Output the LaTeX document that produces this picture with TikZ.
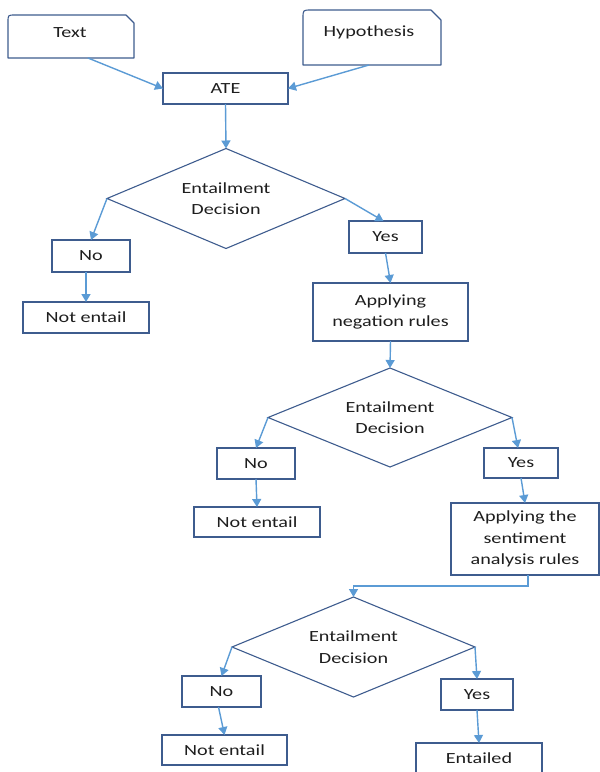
\documentclass[tikz,border=0pt]{standalone}
\usepackage{fontspec}
\setmainfont[FakeStretch=1.3]{Carlito}
\usetikzlibrary{shapes.geometric,arrows.meta}
\definecolor{boxline}{RGB}{62,92,142}
\definecolor{arrowc}{RGB}{91,155,213}
\definecolor{txt}{RGB}{30,30,30}
\begin{document}
\begin{tikzpicture}[x=1pt,y=-1pt,
  font=\fontsize{15.5}{21.5}\selectfont,
  every node/.style={text=txt, inner sep=0pt, outer sep=0pt, align=center},
  box/.style={draw=boxline, line width=1.1pt, rectangle},
  decision/.style={draw=boxline, line width=1.1pt, diamond, aspect=2.4},
  docshape/.style={draw=boxline, line width=1.1pt, line join=round},
  conn/.style={draw=arrowc, line width=1.4pt, -{Triangle[width=9pt,length=8pt]}}
]
\clip (0,0) rectangle (600,772);
\useasboundingbox (0,0) rectangle (600,772);

% document shapes (top-left rounded, top-right snipped)
\node[minimum width=126pt, minimum height=43pt] (text) at (71,36.5) {};
\draw[docshape] (text.south west) -- ([yshift=-7]text.north west)
  .. controls (text.north west) .. ([xshift=7]text.north west)
  -- ([xshift=-8]text.north east) -- ([yshift=-8]text.north east)
  -- (text.south east) -- cycle;
\node (textlbl) at (70,33) {Text};

\node[minimum width=138pt, minimum height=55pt] (hyp) at (372,37.5) {};
\draw[docshape] (hyp.south west) -- ([yshift=-8]hyp.north west)
  .. controls (hyp.north west) .. ([xshift=8]hyp.north west)
  -- ([xshift=-10]hyp.north east) -- ([yshift=-10]hyp.north east)
  -- (hyp.south east) -- cycle;
\node (hyplbl) at (369,32) {Hypothesis};

\node[box, minimum width=125pt, minimum height=31pt] (ate) at (225.5,88.5) {ATE};

% level 1
\node[decision, minimum width=238pt, minimum height=100pt] (d1) at (226,198.5) {Entailment\\Decision};
\node[box, minimum width=78pt, minimum height=32pt] (no1) at (91,256) {No};
\node[box, minimum width=126pt, minimum height=31pt] (ne1) at (86,317.5) {Not entail};
\node[box, minimum width=73pt, minimum height=32pt] (yes1) at (385.5,237) {Yes};
\node[box, minimum width=155pt, minimum height=58pt] (neg) at (390.5,312) {Applying\\negation rules};

% level 2
\node[decision, minimum width=244pt, minimum height=99pt] (d2) at (390,417.5) {Entailment\\Decision};
\node[box, minimum width=78pt, minimum height=31pt] (no2) at (256,463.5) {No};
\node[box, minimum width=126pt, minimum height=30pt] (ne2) at (257,522) {Not entail};
\node[box, minimum width=74pt, minimum height=30pt] (yes2) at (521,463) {Yes};
\node[box, minimum width=148pt, minimum height=72pt] (sent) at (525,539) {Applying the\\sentiment\\analysis rules};

% level 3
\node[decision, minimum width=243pt, minimum height=100pt] (d3) at (353.5,647) {Entailment\\Decision};
\node[box, minimum width=79pt, minimum height=31pt] (no3) at (221.5,691.5) {No};
\node[box, minimum width=125pt, minimum height=30pt] (ne3) at (224.5,750) {Not entail};
\node[box, minimum width=72pt, minimum height=31pt] (yes3) at (477,694.5) {Yes};
\node[box, minimum width=126pt, minimum height=33pt] (ent) at (479,759.5) {};
\node (entlbl) at (479,758) {Entailed};

% connectors
\draw[conn] ([xshift=17]text.south) -- (ate.west);
\draw[conn] ([xshift=-3]hyp.south) -- (ate.east);
\draw[conn] (ate.south) -- (d1.north);
\draw[conn] (d1.west) -- (no1.north);
\draw[conn] ([xshift=-5]no1.south) -- (ne1.north);
\draw[conn] (d1.east) -- ([xshift=-2]yes1.north);
\draw[conn] (yes1.south) -- (neg.north);
\draw[conn] (neg.south) -- (d2.north);
\draw[conn] (d2.west) -- (no2.north);
\draw[conn] (no2.south) -- (ne2.north);
\draw[conn] (d2.east) -- ([xshift=-3]yes2.north);
\draw[conn] (yes2.south) -- (sent.north);
\draw[conn] ([xshift=3]sent.south) -- ++(0,11) -| (d3.north);
\draw[conn] (d3.west) -- (no3.north);
\draw[conn] ([xshift=-3]no3.south) -- (ne3.north);
\draw[conn] (d3.east) -- (yes3.north);
\draw[conn] (yes3.south) -- (ent.north);
\end{tikzpicture}
\end{document}
